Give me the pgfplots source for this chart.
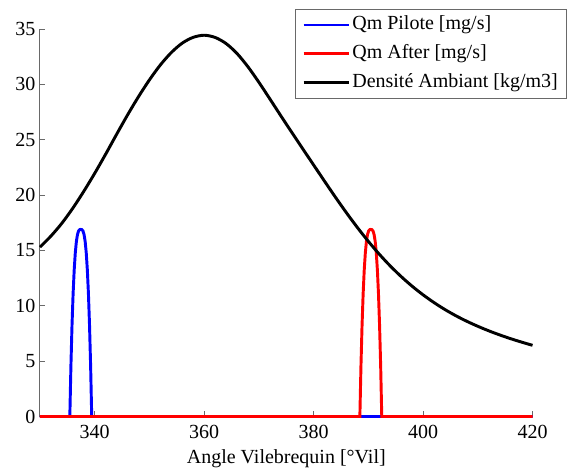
\documentclass[border=0pt]{standalone}
\usepackage{fontspec}
\setmainfont{Liberation Serif}
\usepackage{pgfplots}
\pgfplotsset{compat=1.18}
\definecolor{axgray}{RGB}{105,105,105}

\begin{document}
\begin{tikzpicture}
% frame of the 570x468 reference, 1px = 0.75pt, origin at axis corner
\path[use as bounding box] (-30pt,-38.625pt) rectangle (397.5pt,312.375pt);
\begin{axis}[
    at={(0,0)}, anchor=south west,
    scale only axis,
    width=369.4pt, height=290.6pt,
    xmin=330, xmax=420, ymin=0, ymax=35,
    xtick={340,360,380,400,420},
    ytick={0,5,10,15,20,25,30,35},
    axis x line=bottom, axis y line=left,
    axis line style={axgray, line width=0.75pt, -},
    tick style={axgray, line width=0.75pt},
    tick align=inside,
    major tick length=4pt,
    clip=false,
    font=\fontsize{15}{18}\selectfont,
    xticklabel={\pgfmathprintnumber[assume math mode=true]{\tick}},
    yticklabel={\pgfmathprintnumber[assume math mode=true]{\tick}},
    ticklabel style={font=\fontsize{15}{18}\selectfont, black},
    xticklabel style={yshift=-3pt},
    xlabel={Angle Vilebrequin [°Vil]},
    xlabel style={font=\fontsize{15}{18}\selectfont, yshift=-1pt},
    legend cell align=left,
    legend style={
        at={(1.070,1.053)}, anchor=north east,
        draw=axgray, line width=0.75pt,
        font=\fontsize{15}{18}\selectfont,
        inner xsep=5pt, inner ysep=3pt,
        row sep=3.6pt,
        nodes={inner sep=1.5pt, text height=11pt, text depth=4pt},
    },
    legend image code/.code={\draw[#1] (0pt,0pt) -- (34pt,0pt);},
]

% Qm Pilote
\addplot[blue, line width=2.2pt] coordinates {
    (330,0) (335.45,0) (335.65,4.58) (335.85,8.25) (336.05,11.10) (336.25,13.25)
    (336.45,14.79) (336.65,15.82) (336.85,16.44) (337.05,16.76) (337.25,16.88)
    (337.45,16.90) (337.65,16.88) (337.85,16.76) (338.05,16.44) (338.25,15.82)
    (338.45,14.79) (338.65,13.25) (338.85,11.10) (339.05,8.25) (339.25,4.58)
    (339.45,0) (420,0)
};
\addlegendentry{Qm Pilote [mg/s]}

% Qm After
\addplot[red, line width=2.2pt] coordinates {
    (330,0) (388.45,0) (388.65,4.58) (388.85,8.25) (389.05,11.10) (389.25,13.25)
    (389.45,14.79) (389.65,15.82) (389.85,16.44) (390.05,16.76) (390.25,16.88)
    (390.45,16.90) (390.65,16.88) (390.85,16.76) (391.05,16.44) (391.25,15.82)
    (391.45,14.79) (391.65,13.25) (391.85,11.10) (392.05,8.25) (392.25,4.58)
    (392.45,0) (420,0)
};
\addlegendentry{Qm After [mg/s]}

% Densite ambiante
\addplot[black, line width=2.2pt, smooth] coordinates {
    (330,15.30) (332,16.30) (334,17.46) (336,18.82) (338,20.34) (340,21.97)
    (342,23.70) (344,25.49) (346,27.24) (348,28.89) (350,30.41) (352,31.76)
    (354,32.88) (356,33.73) (358,34.25) (360,34.44) (362,34.24) (364,33.69)
    (366,32.79) (368,31.59) (370,30.19) (372,28.69) (374,27.17) (376,25.67)
    (378,24.19) (380,22.72) (382,21.25) (384,19.80) (386,18.40) (388,17.07)
    (390,15.82) (392,14.66) (394,13.60) (396,12.64) (398,11.77) (400,10.99)
    (402,10.29) (404,9.66) (406,9.10) (408,8.60) (410,8.15) (412,7.74)
    (414,7.37) (416,7.03) (418,6.72) (420,6.43)
};
\addlegendentry{Densité Ambiant [kg/m3]}

\end{axis}
\end{tikzpicture}
\end{document}
